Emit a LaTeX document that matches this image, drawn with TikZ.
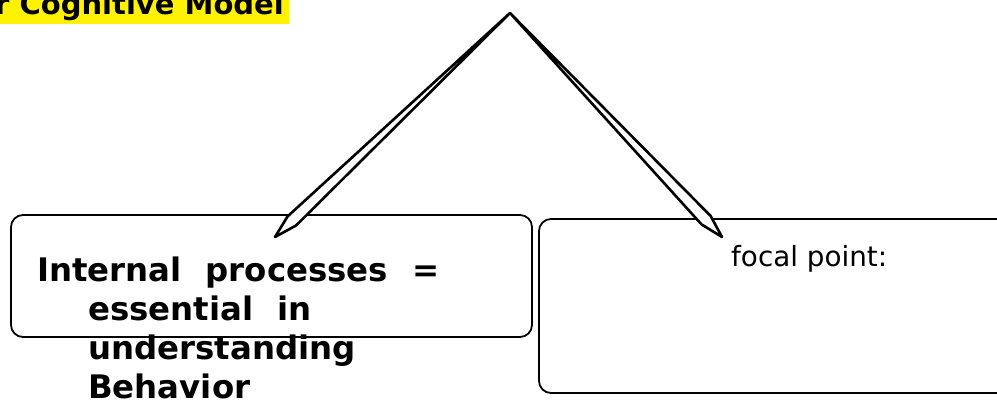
\documentclass[tikz,border=0pt]{standalone}
\usepackage{fontspec}
\setmainfont{DejaVu Sans}
\usetikzlibrary{calc}

\tikzset{
  panel/.style={draw,line width=1.8pt,rounded corners=12pt,inner sep=0pt},
  nib/.style={draw,line width=2.6pt,fill=white,line join=round}
}

\begin{document}
\begin{tikzpicture}[x=1pt,y=-1pt,every node/.style={inner sep=0pt}]
\useasboundingbox (0,0) rectangle (997,404);
% title (cut at the page edge)
\node[fill=yellow,inner xsep=5pt,inner ysep=3pt,anchor=base east,font=\bfseries\fontsize{29}{34}\selectfont] (title) at (289,15) {r Cognitive Model};
% boxes
\node[panel,minimum width=521pt,minimum height=122pt] (boxL) at (271.5,276) {};
\node[panel,minimum width=470pt,minimum height=174pt] (boxR) at (774,306) {};
% base of this node is its last line
\node[anchor=base west,align=left,font=\bfseries\fontsize{32.4}{39}\selectfont] (procText) at (37,398.7)
  {\spaceskip=24pt Internal processes =\\\hspace*{51pt}\spaceskip=24pt essential in\\\hspace*{51pt}understanding\\\hspace*{51pt}Behavior};
\node[anchor=base west,font=\fontsize{27.8}{33}\selectfont] (focal) at (731,266.7) {focal point:};
% arrows
\coordinate (top) at (510,13);
\coordinate (tipL) at (275,237);
\coordinate (tipR) at (722,237);
\draw[nib] (top) -- ($(tipL)!24pt!15:(top)$) -- (tipL) -- ($(tipL)!24pt!-15:(top)$) -- cycle;
\draw[nib] (top) -- ($(tipR)!24pt!15:(top)$) -- (tipR) -- ($(tipR)!24pt!-15:(top)$) -- cycle;
\end{tikzpicture}
\end{document}
